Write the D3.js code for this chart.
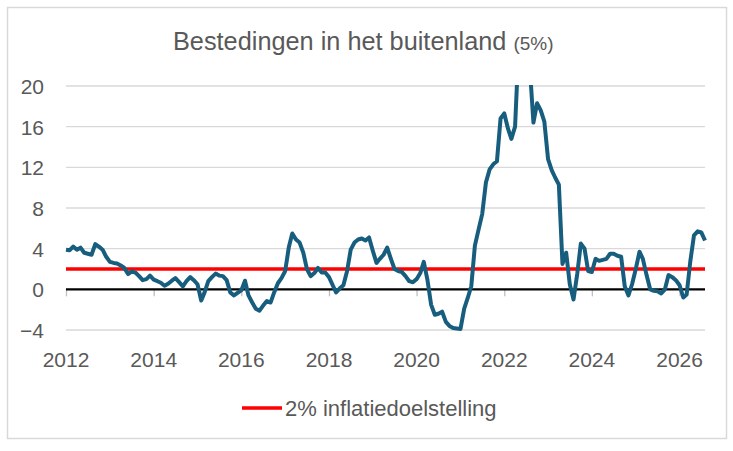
<!DOCTYPE html>
<html>
<head>
<meta charset="utf-8">
<script src="https://cdn.jsdelivr.net/npm/d3@7"></script>
<style>
  body { margin: 0; background: #fff; }
  text { font-family: "Liberation Sans", Arial, sans-serif; fill: #595959; }
</style>
</head>
<body>
<div id="chart"></div>
<script>
// monthly series, Jan 2012 .. Aug 2026
const startMonth = "2012-01";
const values = [
  3.9, 3.85, 4.2, 3.9, 4.1, 3.6, 3.5, 3.4, 4.45, 4.2, 3.9, 3.2,
  2.7, 2.6, 2.55, 2.35, 2.1, 1.5, 1.75, 1.65, 1.3, 0.9, 1.0, 1.35,
  0.95, 0.8, 0.65, 0.35, 0.55, 0.85, 1.1, 0.7, 0.3, 0.8, 1.2, 0.9,
  0.5, -1.1, -0.3, 0.8, 1.2, 1.55, 1.35, 1.3, 0.9, -0.3, -0.6, -0.35,
  -0.1, 0.85, -0.6, -1.3, -1.9, -2.1, -1.6, -1.15, -1.3, -0.3, 0.6, 1.1,
  1.8, 4.2, 5.5, 4.9, 4.6, 3.6, 2.0, 1.3, 1.6, 2.1, 1.65, 1.65,
  1.2, 0.4, -0.3, 0.1, 0.4, 1.8, 3.9, 4.6, 4.9, 5.0, 4.8, 5.1,
  3.8, 2.6, 3.0, 3.4, 4.1, 3.0, 2.0, 1.8, 1.7, 1.3, 0.8, 0.7,
  1.0, 1.6, 2.7, 0.9, -1.5, -2.5, -2.4, -2.2, -3.2, -3.6, -3.8, -3.85,
  -3.9, -1.9, -0.9, 0.3, 4.3, 5.9, 7.4, 10.5, 11.8, 12.3, 12.6, 16.8,
  17.3, 15.8, 14.8, 16.0, 24, 27, 26, 22, 16.4, 18.3, 17.6, 16.5,
  12.8, 11.7, 11.0, 10.3, 2.5, 3.6, 0.5, -1.0, 1.5, 4.5, 4.0, 1.8,
  1.7, 3.0, 2.8, 2.9, 3.0, 3.5, 3.5, 3.3, 3.2, 0.3, -0.6, 0.5,
  2.0, 3.7, 3.0, 1.4, 0.0, -0.15, -0.2, -0.4, 0.0, 1.4, 1.2, 0.9,
  0.4, -0.8, -0.5, 2.8, 5.3, 5.7, 5.6, 4.8
];
const target = 2;
const yTicks = [-4, 0, 4, 8, 12, 16, 20];
const xTickYears = [2012, 2014, 2016, 2018, 2020, 2022, 2024, 2026];
const titleMain = "Bestedingen in het buitenland";
const titleSub = "(5%)";
const legendLabel = "2% inflatiedoelstelling";

const W = 733, H = 451;
const plot = { left: 66, right: 705, top: 86, bottom: 330 };

const parseMonth = d3.timeParse("%Y-%m");
const t0 = parseMonth(startMonth);
const data = values.map((v, i) => ({ date: d3.timeMonth.offset(t0, i), value: v }));

const svg = d3.select("#chart")
  .append("svg")
  .attr("width", W)
  .attr("height", H);

// chart frame
svg.append("rect")
  .attr("x", 7.5).attr("y", 7.5)
  .attr("width", 719).attr("height", 431)
  .attr("fill", "#fff")
  .attr("stroke", "#d9d9d9")
  .attr("stroke-width", 1.5);

const x = d3.scaleTime()
  .domain([t0, data[data.length - 1].date])
  .range([plot.left, plot.right]);

const y = d3.scaleLinear()
  .domain([-4, 20])
  .range([plot.bottom, plot.top]);

// title
const title = svg.append("text")
  .attr("x", 173)
  .attr("y", 50)
  .attr("text-anchor", "start");
title.append("tspan").attr("font-size", "25.3px").text(titleMain + " ");
title.append("tspan").attr("font-size", "19px").text(titleSub);

// gridlines
svg.append("g")
  .selectAll("line")
  .data(yTicks.filter(d => d !== 0))
  .enter()
  .append("line")
  .attr("x1", plot.left).attr("x2", plot.right)
  .attr("y1", d => y(d)).attr("y2", d => y(d))
  .attr("stroke", "#d9d9d9")
  .attr("stroke-width", 1.3);

// y axis labels
const yAxis = svg.append("g")
  .attr("transform", "translate(" + (plot.left - 22) + ",0)")
  .call(d3.axisLeft(y).tickValues(yTicks).tickSize(0).tickPadding(0));
yAxis.select(".domain").remove();
yAxis.selectAll("text")
  .attr("font-size", "21px")
  .attr("font-family", "Liberation Sans, Arial, sans-serif")
  .attr("fill", "#595959")
  .attr("dy", "0.35em");

// x axis ticks on the zero line
const xAxis = svg.append("g")
  .attr("transform", "translate(0," + y(0) + ")")
  .call(d3.axisBottom(x)
    .tickValues(xTickYears.map(yr => new Date(yr, 0, 1)))
    .tickSize(7)
    .tickFormat(""));
xAxis.select(".domain").remove();
xAxis.selectAll("line").attr("stroke", "#bfbfbf").attr("stroke-width", 1.3);

// x labels at the bottom
svg.append("g")
  .selectAll("text")
  .data(xTickYears)
  .enter()
  .append("text")
  .attr("x", d => x(new Date(d, 0, 1)))
  .attr("y", 366.5)
  .attr("text-anchor", "middle")
  .attr("font-size", "21px")
  .text(d => d);

// zero line
svg.append("line")
  .attr("x1", plot.left).attr("x2", plot.right)
  .attr("y1", y(0)).attr("y2", y(0))
  .attr("stroke", "#000")
  .attr("stroke-width", 2.2);

// 2% target
svg.append("line")
  .attr("x1", plot.left).attr("x2", plot.right)
  .attr("y1", y(target)).attr("y2", y(target))
  .attr("stroke", "#ff0000")
  .attr("stroke-width", 3.4);

// clip the series at the top of the axis
svg.append("clipPath")
  .attr("id", "plot-clip")
  .append("rect")
  .attr("x", 0).attr("y", plot.top - 1)
  .attr("width", W).attr("height", H);

const line = d3.line()
  .x(d => x(d.date))
  .y(d => y(d.value));

svg.append("path")
  .datum(data)
  .attr("clip-path", "url(#plot-clip)")
  .attr("fill", "none")
  .attr("stroke", "#175e7e")
  .attr("stroke-width", 4)
  .attr("stroke-linejoin", "round")
  .attr("d", line);

// legend
const legend = svg.append("g")
  .attr("transform", "translate(242,408)");
legend.append("line")
  .attr("x1", 0).attr("x2", 40)
  .attr("y1", 0).attr("y2", 0)
  .attr("stroke", "#ff0000")
  .attr("stroke-width", 3.4);
legend.append("text")
  .attr("x", 43)
  .attr("y", 0)
  .attr("dy", "0.35em")
  .attr("font-size", "22px")
  .text(legendLabel);
</script>
</body>
</html>
